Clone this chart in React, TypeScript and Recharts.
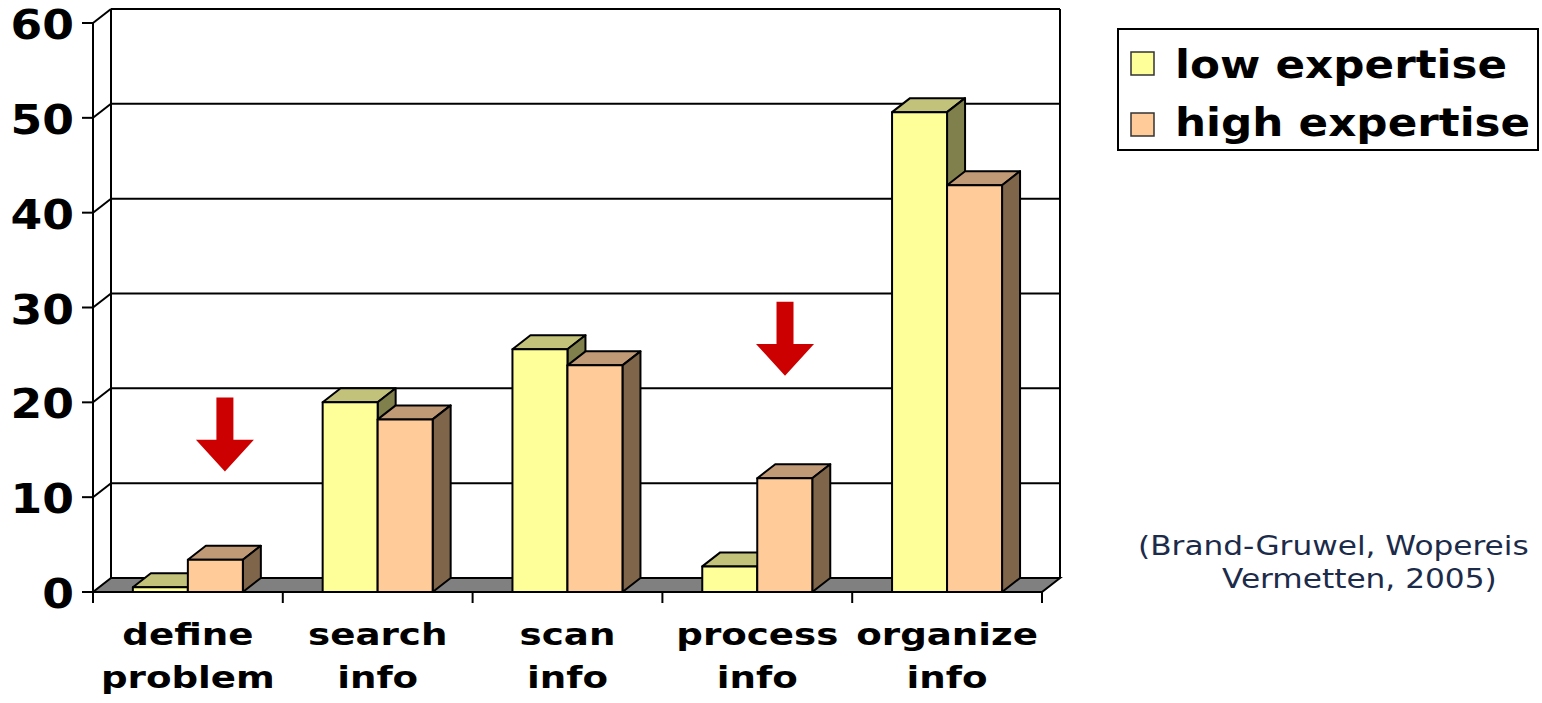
import { BarChart, Bar, XAxis, YAxis, CartesianGrid, ReferenceLine } from "recharts";

const categories = ["define problem", "search info", "scan info", "process info", "organize info"];
const lowExpertise = [0.5, 20, 25.6, 2.7, 50.6];
const highExpertise = [3.4, 18.2, 23.9, 12.0, 42.9];
const yTicks = [0, 10, 20, 30, 40, 50, 60];

// red arrows: category, place inside that category (0..1), top and tip value
const arrowCat = ["define problem", "process info"];
const arrowFrac = [0.695, 0.646];
const arrowTop = [20.5, 30.6];
const arrowTip = [12.7, 22.8];

const citation = ["(Brand-Gruwel, Wopereis", "Vermetten, 2005)"];

const data = categories.map((category, i) => ({
  category,
  low: lowExpertise[i],
  high: highExpertise[i],
}));

const series = [
  { key: "low", name: "low expertise", front: "#FFFF99", top: "#C2C27A", side: "#80804D" },
  { key: "high", name: "high expertise", front: "#FFCC99", top: "#C09A76", side: "#7F654A" },
];

const W = 1542;
const H = 703;
const PLOT = { left: 93, top: 23, right: 1042, bottom: 592 };
const BAND = (PLOT.right - PLOT.left) / categories.length;
const DX = 18;
const DY = -14;
const FONT = "'DejaVu Sans', Verdana, sans-serif";

function Box3D(props: any) {
  const { x, y, width: w, height: h, colors } = props;
  if (h == null || w == null) return null;
  const top = `${x},${y} ${x + DX},${y + DY} ${x + w + DX},${y + DY} ${x + w},${y}`;
  const side = `${x + w},${y} ${x + w + DX},${y + DY} ${x + w + DX},${y + h + DY} ${x + w},${y + h}`;
  return (
    <g stroke="#000" strokeWidth={2} strokeLinejoin="round">
      <polygon points={top} fill={colors.top} />
      <polygon points={side} fill={colors.side} />
      <rect x={x} y={y} width={w} height={h} fill={colors.front} />
    </g>
  );
}

// horizontal grid lines are pushed onto the back wall; the 0 line becomes the floor
function wallLine(p: any) {
  const { x1, x2, y1 } = p;
  const by = y1 + DY;
  if (Math.abs(y1 - PLOT.bottom) < 1) {
    return (
      <polygon
        key={p.key}
        points={`${x1},${y1} ${x1 + DX},${by} ${x2 + DX},${by} ${x2},${y1}`}
        fill="#808080"
        stroke="#000"
        strokeWidth={2}
      />
    );
  }
  const isTop = Math.abs(y1 - PLOT.top) < 1;
  return (
    <g key={p.key} stroke="#000" strokeWidth={2}>
      <line x1={x1} y1={y1} x2={x1 + DX} y2={by} />
      <line x1={x1 + DX} y1={by} x2={x2 + DX} y2={by} />
      {isTop && <line x1={x1 + DX} y1={by} x2={x1 + DX} y2={PLOT.bottom + DY} />}
      {isTop && <line x1={x2 + DX} y1={by} x2={x2 + DX} y2={PLOT.bottom + DY} />}
    </g>
  );
}

function YTick({ x, y, payload }: any) {
  return (
    <text
      transform={`translate(${x - 6},${y + 16}) scale(1.14,1)`}
      textAnchor="end"
      fontFamily={FONT}
      fontWeight="bold"
      fontSize={40}
      fill="#000"
    >
      {payload.value}
    </text>
  );
}

function XTick({ x, payload, index }: any) {
  const s = String(payload.value);
  const cut = s.indexOf(" ");
  const lines = [s.slice(0, cut), s.slice(cut + 1)];
  return (
    <g>
      <line x1={x - BAND / 2} y1={PLOT.bottom} x2={x - BAND / 2} y2={PLOT.bottom + 11} stroke="#000" strokeWidth={2} />
      {index === categories.length - 1 && (
        <line x1={x + BAND / 2} y1={PLOT.bottom} x2={x + BAND / 2} y2={PLOT.bottom + 11} stroke="#000" strokeWidth={2} />
      )}
      {lines.map((t, i) => (
        <text
          key={i}
          transform={`translate(${x},${645 + i * 43}) scale(1.2,1)`}
          textAnchor="middle"
          fontFamily={FONT}
          fontWeight="bold"
          fontSize={31}
          fill="#000"
        >
          {t}
        </text>
      ))}
    </g>
  );
}

function Arrow(p: any) {
  const { x1, y1, y2, frac } = p;
  const cx = x1 + (frac - 0.5) * BAND;
  const head = (y2 - y1) * 0.43;
  const sw = 8.5;
  const hw = 29;
  const pts = [
    [cx - sw, y1],
    [cx + sw, y1],
    [cx + sw, y2 - head],
    [cx + hw, y2 - head],
    [cx, y2],
    [cx - hw, y2 - head],
    [cx - sw, y2 - head],
  ];
  return <polygon points={pts.map((q) => q.join(",")).join(" ")} fill="#CC0000" />;
}

export default function App() {
  return (
    <div style={{ position: "absolute", left: 0, top: 0, width: W, height: H, background: "#fff" }}>
      <BarChart
        width={W}
        height={H}
        data={data}
        margin={{ top: PLOT.top, right: W - PLOT.right, bottom: 0, left: 0 }}
        barCategoryGap="21%"
        barGap={0}
      >
        <CartesianGrid vertical={false} horizontal={wallLine} />
        <XAxis
          dataKey="category"
          height={H - PLOT.bottom}
          interval={0}
          tickLine={false}
          axisLine={{ stroke: "#000", strokeWidth: 2 }}
          tick={<XTick />}
        />
        <YAxis
          width={PLOT.left}
          domain={[0, 60]}
          ticks={yTicks}
          tickSize={11}
          tickLine={{ stroke: "#000", strokeWidth: 2 }}
          axisLine={{ stroke: "#000", strokeWidth: 2 }}
          tick={<YTick />}
        />
        {series.map((s) => (
          <Bar
            key={s.key}
            dataKey={s.key}
            name={s.name}
            isAnimationActive={false}
            shape={(p: any) => <Box3D {...p} colors={s} />}
          />
        ))}
        {arrowCat.map((cat, i) => (
          <ReferenceLine
            key={cat}
            segment={[
              { x: cat, y: arrowTop[i] },
              { x: cat, y: arrowTip[i] },
            ]}
            ifOverflow="visible"
            shape={(p: any) => <Arrow {...p} frac={arrowFrac[i]} />}
          />
        ))}
      </BarChart>

      <svg width={W} height={H} style={{ position: "absolute", left: 0, top: 0, pointerEvents: "none" }}>
        <rect x={1118} y={29} width={420} height={121} fill="#fff" stroke="#000" strokeWidth={2} />
        {series.map((s, i) => (
          <g key={s.key}>
            <rect x={1131} y={52 + i * 61} width={23} height={23} fill={s.front} stroke="#333" strokeWidth={1.5} />
            <text
              transform={`translate(1175,${78 + i * 58}) scale(1.12,1)`}
              fontFamily={FONT}
              fontWeight="bold"
              fontSize={39}
              fill="#000"
            >
              {s.name}
            </text>
          </g>
        ))}
        {citation.map((t, i) => (
          <text
            key={i}
            transform={`translate(${i === 0 ? 1138 : 1222},${555 + i * 33}) scale(1.2,1)`}
            fontFamily={FONT}
            fontSize={26}
            fill="#1C2B4A"
          >
            {t}
          </text>
        ))}
      </svg>
    </div>
  );
}
